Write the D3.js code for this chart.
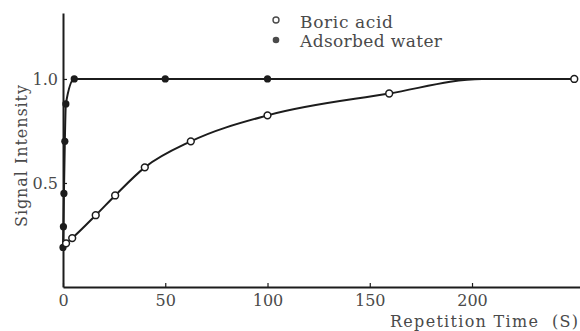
<!DOCTYPE html>
<html>
<head>
<meta charset="utf-8">
<script src="https://cdn.jsdelivr.net/npm/d3@7"></script>
<style>
  body { margin: 0; background: #fff; }
  svg { display: block; }
</style>
</head>
<body>
<svg id="chart" width="580" height="331"></svg>
<script>
// Boric acid (open circles) - measured points
const boricTime = [1.5, 4.5, 16, 25.5, 40, 62.5, 100, 159.5, 250];
const boricSignal = [0.21, 0.235, 0.345, 0.44, 0.575, 0.70, 0.825, 0.93, 1.0];
// Boric acid hand-drawn curve (knots)
const boricCurveTime = [0, 1.5, 4.5, 16, 25.5, 40, 62.5, 100, 159.5, 205, 250];
const boricCurveSignal = [0.19, 0.21, 0.235, 0.345, 0.44, 0.575, 0.70, 0.825, 0.93, 1.0, 1.0];

// Adsorbed water (filled circles)
const waterTime = [0, 0.2, 0.45, 0.9, 1.4, 5.5, 50, 100];
const waterSignal = [0.19, 0.29, 0.45, 0.70, 0.88, 1.0, 1.0, 1.0];
const waterCurveTime = [0, 0.2, 0.45, 0.9, 1.4, 5.5, 50, 100, 250];
const waterCurveSignal = [0.19, 0.29, 0.45, 0.70, 0.88, 1.0, 1.0, 1.0, 1.0];

const xTicks = [0, 50, 100, 150, 200];
const yTicks = [0.5, 1.0];
const legendLabels = ["Boric acid", "Adsorbed water"];

const serif = '"DejaVu Serif", "Liberation Serif", serif';
const svg = d3.select('#chart').attr('font-family', serif);
const ink = '#1c1c1c';
const textInk = '#4a4a4a';

const x = d3.scaleLinear().domain([0, 252.8]).range([63, 580]);
const y = d3.scaleLinear().domain([0, 1.317]).range([287, 13]);

// axes, ticks pointing inward
const xAxis = svg.append('g').attr('transform', 'translate(0,287)')
  .call(d3.axisBottom(x).tickValues(xTicks).tickSizeInner(-4).tickSizeOuter(0).tickPadding(8));
const yAxis = svg.append('g').attr('transform', 'translate(63,0)')
  .call(d3.axisLeft(y).tickValues(yTicks).tickFormat(d3.format('.1f')).tickSizeInner(-4).tickSizeOuter(0).tickPadding(5));

[xAxis, yAxis].forEach(g => {
  g.attr('font-family', serif).attr('font-size', 16);
  g.select('.domain').attr('stroke', ink).attr('stroke-width', 2);
  g.selectAll('.tick line').attr('stroke', ink).attr('stroke-width', 1.2);
  g.selectAll('.tick text').attr('fill', textInk);
});

// axis titles
svg.append('text')
  .attr('transform', 'translate(27,156) rotate(-90)')
  .attr('text-anchor', 'middle')
  .attr('font-size', 16).attr('fill', textInk)
  .attr('textLength', 142).attr('lengthAdjust', 'spacing')
  .text('Signal Intensity');

svg.append('text')
  .attr('x', 390).attr('y', 327)
  .attr('font-size', 16).attr('fill', textInk)
  .attr('textLength', 188).attr('lengthAdjust', 'spacing')
  .text('Repetition Time\u00a0\u00a0(S)');

// curves
const line = d3.line().x(d => x(d[0])).y(d => y(d[1])).curve(d3.curveMonotoneX);

svg.append('path')
  .attr('d', line(boricCurveTime.map((t, i) => [t, boricCurveSignal[i]])))
  .attr('fill', 'none').attr('stroke', ink).attr('stroke-width', 2);
svg.append('path')
  .attr('d', line(waterCurveTime.map((t, i) => [t, waterCurveSignal[i]])))
  .attr('fill', 'none').attr('stroke', ink).attr('stroke-width', 2);

// markers
svg.append('g').selectAll('circle')
  .data(waterTime.map((t, i) => [t, waterSignal[i]]))
  .enter().append('circle')
  .attr('cx', d => x(d[0])).attr('cy', d => y(d[1]))
  .attr('r', 3.6).attr('fill', ink);

svg.append('g').selectAll('circle')
  .data(boricTime.map((t, i) => [t, boricSignal[i]]))
  .enter().append('circle')
  .attr('cx', d => x(d[0])).attr('cy', d => y(d[1]))
  .attr('r', 3.4).attr('fill', '#fff').attr('stroke', ink).attr('stroke-width', 1.5);

// legend
const legend = svg.append('g');
legend.append('circle').attr('cx', 276).attr('cy', 20).attr('r', 3)
  .attr('fill', '#fff').attr('stroke', textInk).attr('stroke-width', 1.4);
legend.append('circle').attr('cx', 276).attr('cy', 40).attr('r', 3.3)
  .attr('fill', textInk);
legend.append('text').attr('x', 300).attr('y', 28).attr('font-size', 17).attr('fill', textInk)
  .attr('textLength', 93).attr('lengthAdjust', 'spacing').text(legendLabels[0]);
legend.append('text').attr('x', 300).attr('y', 47).attr('font-size', 17).attr('fill', textInk)
  .attr('textLength', 142).attr('lengthAdjust', 'spacing').text(legendLabels[1]);
</script>
</body>
</html>
